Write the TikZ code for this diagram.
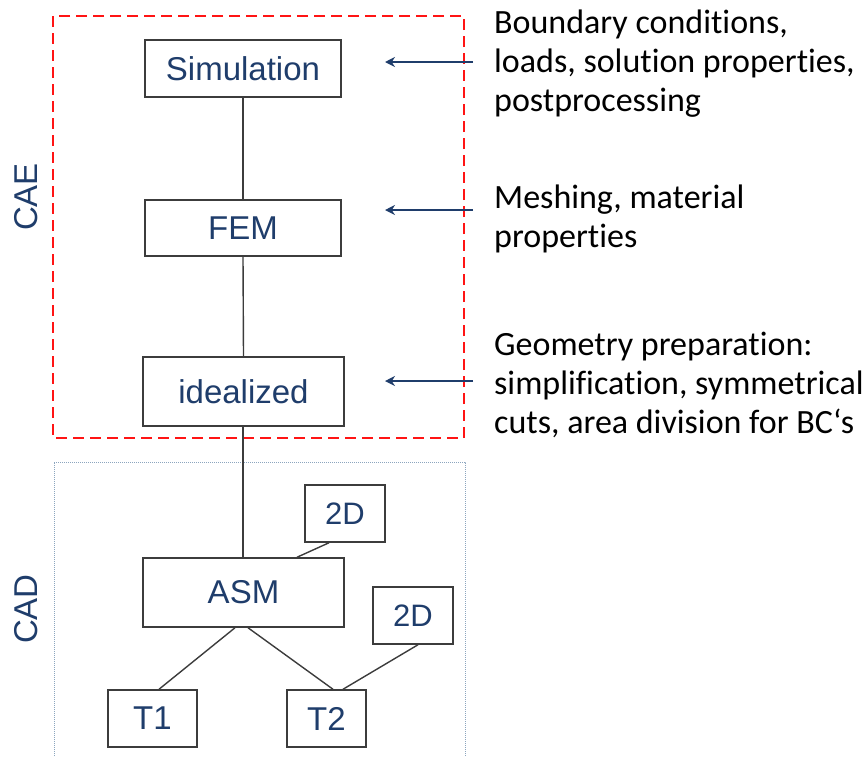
\documentclass[tikz,border=0pt]{standalone}
\usepackage{fontspec}
\setmainfont{Liberation Sans}
\newfontfamily\notefont[Ligatures={NoCommon}]{Carlito}
\usetikzlibrary{arrows.meta}
\definecolor{txtblue}{RGB}{31,61,107}
\definecolor{boxgray}{RGB}{60,60,60}
\definecolor{dotblue}{RGB}{140,165,190}
\definecolor{redd}{RGB}{255,20,20}
\tikzset{
  blk/.style={draw=boxgray, line width=1.5pt, rectangle, inner sep=0pt,
    text=txtblue, font=\fontsize{33}{38}\selectfont},
  conn/.style={draw=boxgray, line width=1.4pt},
  inarrow/.style={draw=txtblue, line width=2.6pt, -{Stealth[length=10pt,width=10pt]}},
  note/.style={anchor=base west, inner sep=0pt, font=\notefont\fontsize{34}{39.3}\selectfont},
  side/.style={text=txtblue, rotate=90, font=\fontsize{33}{38}\selectfont, inner sep=0pt}
}
\begin{document}
\begin{tikzpicture}[x=1pt,y=-1pt]
\useasboundingbox (0,0) rectangle (865,756);
% group frames
\draw[redd, line width=2.6pt, dash pattern=on 11pt off 6pt] (53,16) rectangle (464,438);
\draw[dotblue, line width=1pt, densely dotted] (54,770) -- (54,462) -- (465,462) -- (465,770);
% side labels
\node[side] (cae) at (26,197) {CAE};
\node[side] (cad) at (26,609) {CAD};
% boxes
\node[blk, minimum width=196pt, minimum height=57pt] (sim) at (243,68.5) {Simulation};
\node[blk, minimum width=196pt, minimum height=56pt] (fem) at (243,228) {FEM};
\node[blk, minimum width=201pt, minimum height=69pt] (ide) at (243.5,391.5) {idealized};
\node[blk, minimum width=201pt, minimum height=69pt] (asm) at (243.5,592.5) {ASM};
\node[blk, minimum width=80pt, minimum height=57pt, font=\fontsize{31}{36}\selectfont] (dA) at (345,513.5) {2D};
\node[blk, minimum width=80pt, minimum height=57pt, font=\fontsize{31}{36}\selectfont] (dB) at (413,615.5) {2D};
\node[blk, minimum width=89pt, minimum height=57pt] (t1) at (152.5,718.5) {T1};
\node[blk, minimum width=79pt, minimum height=57pt] (t2) at (326.5,718.5) {T2};
% connectors
\draw[conn] (sim.south) -- (fem.north);
\draw[conn] (fem.south) -- (ide.north);
\draw[conn] ([xshift=-0.5pt]ide.south) -- ([xshift=-0.5pt]asm.north);
\draw[conn] ([xshift=-16pt]dA.south) -- ([xshift=53.5pt]asm.north);
\draw[conn] ([xshift=-8.5pt]asm.south) -- ([xshift=6.5pt]t1.north);
\draw[conn] ([xshift=4.5pt]asm.south) -- ([xshift=6.5pt]t2.north);
\draw[conn] ([xshift=5pt]dB.south) -- ([xshift=16.5pt]t2.north);
% input arrows
\coordinate (a1s) at (473,62);  \coordinate (a1e) at (385,62);
\coordinate (a2s) at (473,210); \coordinate (a2e) at (385,210);
\coordinate (a3s) at (473,381); \coordinate (a3e) at (385,381);
\draw[inarrow] (a1s) -- (a1e);
\draw[inarrow] (a2s) -- (a2e);
\draw[inarrow] (a3s) -- (a3e);
% notes
\node[note] (n1) at (494,33) {\parbox[t]{380pt}{Boundary conditions,\\loads, solution properties,\\postprocessing}};
\node[note] (n2) at (494,208) {\parbox[t]{380pt}{Meshing, material\\properties}};
\node[note] (n3) at (494,355) {\parbox[t]{380pt}{Geometry preparation:\\simplification, symmetrical\\cuts, area division for BC‘s}};
\end{tikzpicture}
\end{document}
